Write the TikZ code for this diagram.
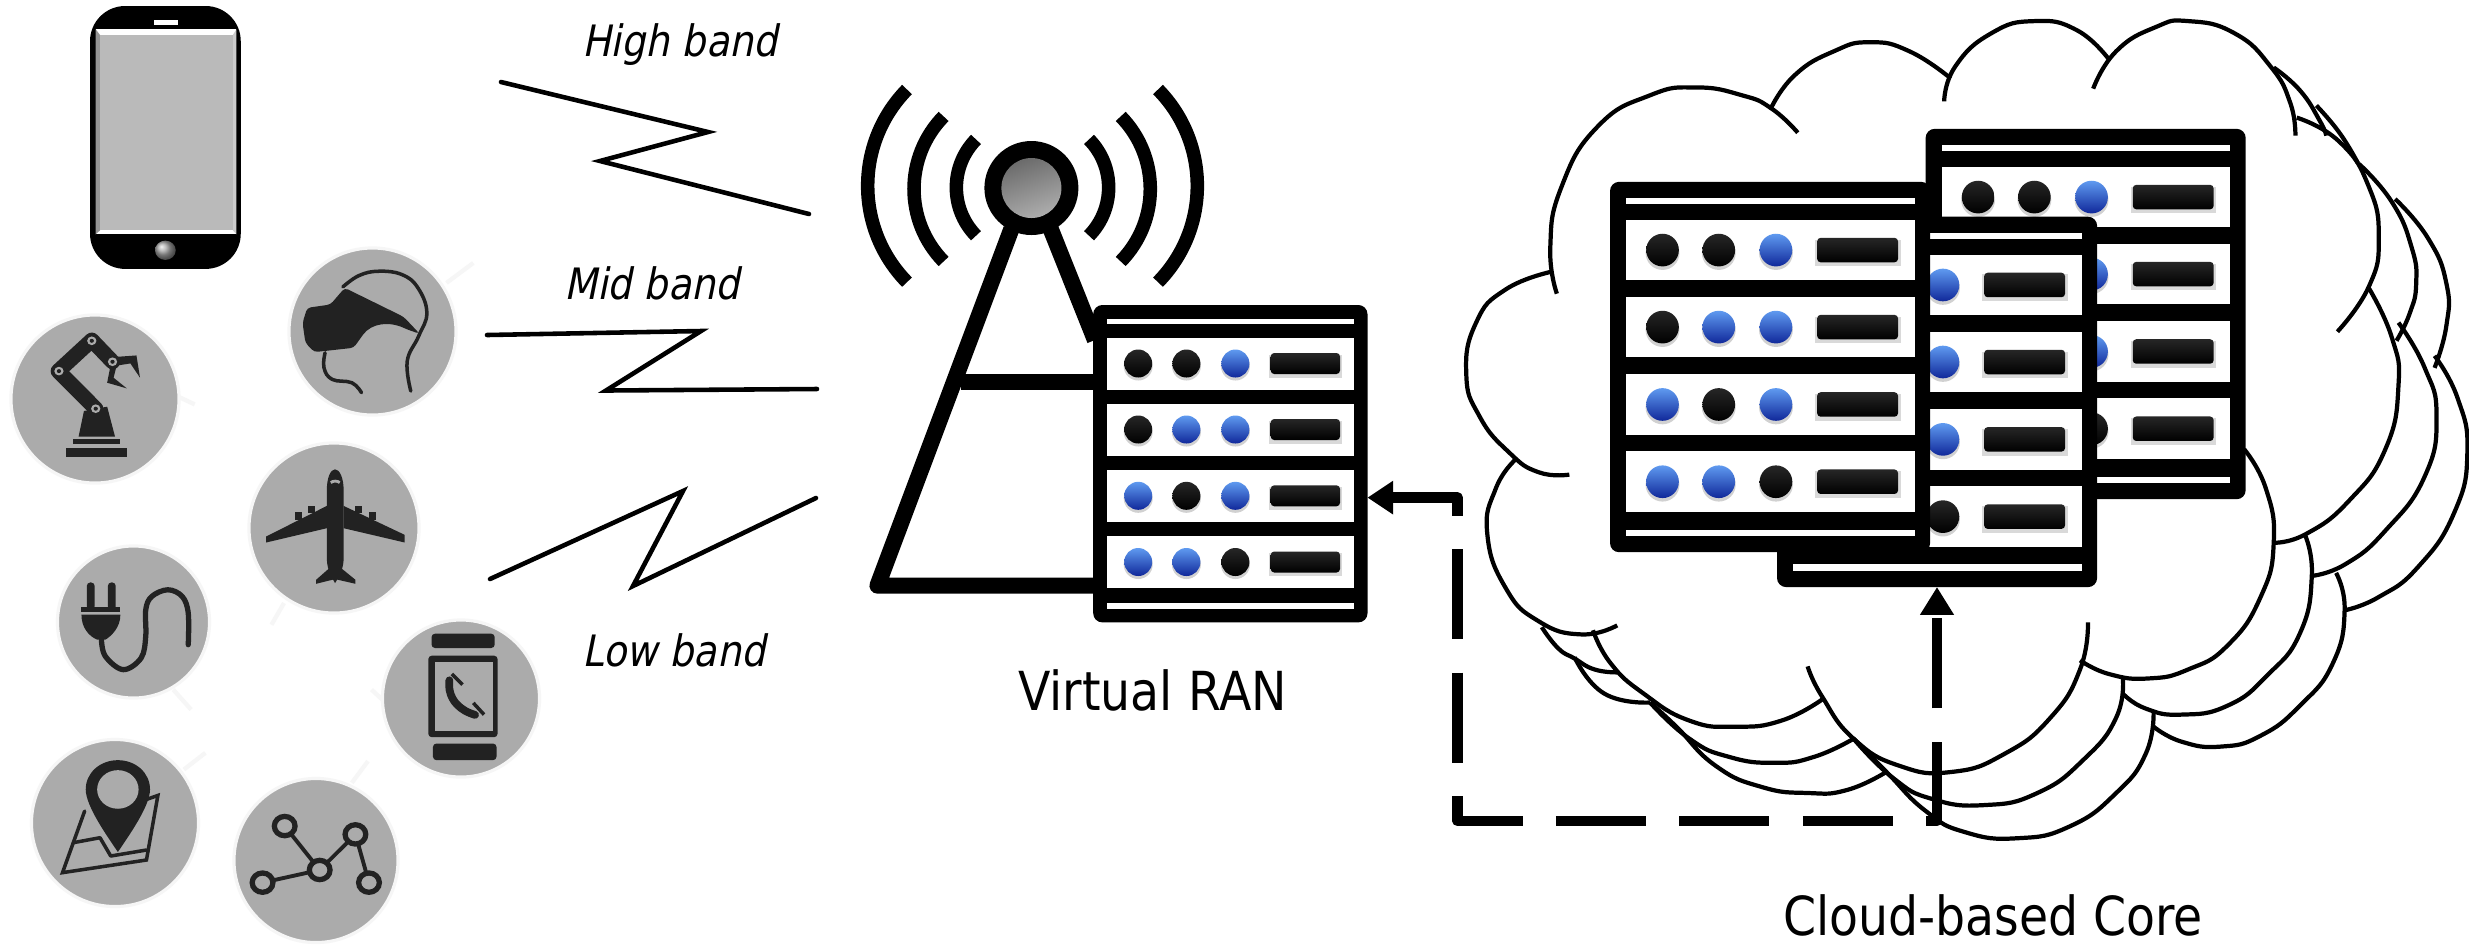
\documentclass[tikz,border=0pt]{standalone}
\usepackage{fontspec}
\setmainfont{DejaVu Sans}
\newfontfamily\lblfont[FakeStretch=0.88]{DejaVu Sans}
\newfontfamily\lblifont[FakeStretch=0.88,FakeSlant=0.2]{DejaVu Sans}
\usetikzlibrary{arrows.meta}
\definecolor{discgrey}{HTML}{ABABAB}
\definecolor{ink}{HTML}{222222}
\definecolor{halo}{HTML}{F6F6F6}
\definecolor{bluetop}{HTML}{5F9AF0}
\definecolor{bluemid}{HTML}{2358D8}
\definecolor{bluebot}{HTML}{10289A}
\tikzset{
 zoomA/.style={x=0.0035714cm,y=-0.0033333cm},
 zoomB/.style={shift={(0,440)},x=0.0035714cm,y=-0.0033333cm},
 zoomC/.style={shift={(1440,0)},x=0.006562cm,y=-0.00602cm},
 disc/.style={circle,fill=discgrey,draw=halo,line width=.9pt,inner sep=0pt},
 stub/.style={draw=halo,line width=1.2pt},
 inkline/.style={draw=ink,line cap=round,line join=round},
 zig/.style={draw=black,line width=1.3pt,line cap=round,line join=miter},
 wave/.style={draw=black,line width=3.85pt,line cap=butt},
 towerline/.style={draw=black,line width=4.6pt,line join=round,line cap=butt},
 cloudline/.style={draw=black,line width=1.2pt},
 dashconn/.style={draw=black,line width=3pt,line join=round,dash pattern=on 25.6pt off 9.5pt,dash phase=1.7pt,
   {Triangle[length=7.3pt,width=9.1pt]}-{Triangle[length=7.9pt,width=9.1pt]}},
 bandlabel/.style={font=\lblifont\fontsize{12.3}{15}\selectfont,inner sep=0pt},
 mainlabel/.style={font=\lblfont\fontsize{15.3}{18}\selectfont,inner sep=0pt},
 ledblue/.style={top color=bluetop,middle color=bluemid,bottom color=bluebot},
 ledblack/.style={top color=black!85,bottom color=black},
}
\newcommand\oneled[3]{%
 \fill[black,opacity=.18] (#1,#2+2.5) circle[radius=14.5];
 \shade[#3] (#1,#2) circle[radius=14];}
\newcommand\onerow[4]{%
 \fill[white] (14,#1) rectangle (261,#1+52);
 \oneled{45}{#1+26}{#2}\oneled{93.2}{#1+26}{#3}\oneled{142.2}{#1+26}{#4}
 \fill[black,opacity=.15] (176,#1+17) rectangle (249,#1+40);
 \shade[top color=black!85,bottom color=black,rounded corners=1pt] (177.5,#1+15.5) rectangle (246.8,#1+36.5);}
\newcommand\serverunit[2]{%
 \begin{scope}[shift={#1},scale=#2]
  \fill[black,rounded corners=2.6pt] (0,0) rectangle (274.3,317.4);
  \fill[white] (14,14) rectangle (261,18.7);
  \fill[white] (14,298) rectangle (261,303.6);
  \onerow{32.5}{ledblack}{ledblack}{ledblue}
  \onerow{98.5}{ledblack}{ledblue}{ledblue}
  \onerow{164.8}{ledblue}{ledblack}{ledblue}
  \onerow{231}{ledblue}{ledblue}{ledblack}
 \end{scope}}
\newcommand\arcline[1]{\draw[cloudline] plot[smooth,tension=0.85] coordinates {#1};}
\begin{document}
\begin{tikzpicture}[x=0.01cm,y=-0.01cm]
\useasboundingbox (0,0) rectangle (2469,944);
\fill[white] (0,0) rectangle (2469,944);

% ---------- phone
\begin{scope}[zoomA]
 \fill[black,rounded corners=10pt] (252,18) rectangle (674,808);
 \fill[white] (268,88) rectangle (662,704);
 \fill[white] (430,60) rectangle (497,74);
 \fill[gray!85] (268,88) -- (280,105) -- (280,692) -- (268,704) -- cycle;
 \fill[gray!40] (662,88) -- (652,105) -- (652,692) -- (662,704) -- cycle;
 \fill[black!27] (280,105) rectangle (652,692);
 \shade[ball color=gray!70] (463,752) circle[radius=29];
\end{scope}

% ---------- stubs behind the discs
\begin{scope}[zoomA]
 \draw[stub] (1250,850) -- (1325,790);
 \draw[stub] (495,1190) -- (545,1215);
\end{scope}
\begin{scope}[zoomB]
 \draw[stub] (795,490) -- (760,555);
 \draw[stub] (485,750) -- (535,810);
 \draw[stub] (1070,780) -- (1040,750);
 \draw[stub] (515,990) -- (575,940);
 \draw[stub] (1030,965) -- (985,1030);
\end{scope}

% ---------- discs
\node[disc,minimum size=1.67cm] (vr) at (372.5,331.5) {};
\node[disc,minimum size=1.68cm] (robot) at (95,399) {};
\node[disc,minimum size=1.70cm] (plane) at (334,528) {};
\node[disc,minimum size=1.52cm] (plug) at (133.5,622) {};
\node[disc,minimum size=1.57cm] (watch) at (461,698.5) {};
\node[disc,minimum size=1.67cm] (map) at (115,823) {};
\node[disc,minimum size=1.64cm] (network) at (316,860.5) {};

% ---------- robot arm
\begin{scope}[zoomA]
 \fill[ink] (185,1345) rectangle (355,1372);
 \fill[ink] (205,1320) rectangle (335,1335);
 \fill[ink] (235,1235) -- (300,1222) -- (322,1312) -- (220,1312) -- cycle;
 \draw[inkline,line width=4.3pt] (268,1228) -- (163,1115) -- (257,1022) -- (315,1087);
 \fill[ink] (330,1072) -- (382,1068) -- (392,1135) -- (365,1092) -- (330,1098) -- cycle;
 \fill[ink] (310,1095) -- (300,1150) -- (355,1167) -- (318,1135) -- (325,1105) -- cycle;
 \foreach \jx/\jy in {165/1115,257/1024,268/1228,315/1087}{
  \fill[discgrey] (\jx,\jy) circle[radius=13];
  \fill[ink] (\jx,\jy) circle[radius=6];}
\end{scope}

% ---------- VR headset
\begin{scope}[zoomA]
 \fill[ink,rounded corners=1pt] (965,865) -- (1060,915) -- (1130,952) -- (1175,1003) -- (1140,990)
   .. controls (1090,965) and (1040,970) .. (1010,1015) -- (990,1045) -- (880,1058) -- (855,1030)
   -- (847,970) -- (860,925) -- (925,915) -- cycle;
 \draw[inkline,line width=1pt] plot[smooth,tension=.7] coordinates
   {(960,862) (1005,828) (1060,815) (1125,825) (1170,865) (1195,940) (1172,1010) (1140,1085) (1150,1175)};
 \draw[inkline,line width=1pt] plot[smooth,tension=.7] coordinates
   {(910,1060) (907,1105) (930,1140) (985,1150) (1012,1180)};
\end{scope}

% ---------- plane
\begin{scope}[zoomB]
 \fill[ink] (938,88) .. controls (925,88) and (915,115) .. (915,150) -- (915,360)
   .. controls (917,395) and (930,415) .. (938,430) .. controls (946,415) and (960,395) .. (962,360)
   -- (962,150) .. controls (962,115) and (951,88) .. (938,88) -- cycle;
 \fill[ink] (915,198) -- (745,290) -- (745,308) -- (915,265) -- cycle;
 \fill[ink] (962,198) -- (1133,285) -- (1133,308) -- (962,265) -- cycle;
 \fill[ink] (825,215) rectangle (845,240);
 \fill[ink] (862,197) rectangle (882,218);
 \fill[ink] (995,197) rectangle (1013,218);
 \fill[ink] (1033,215) rectangle (1052,240);
 \fill[ink] (922,385) -- (885,420) -- (885,432) -- (938,418) -- (995,432) -- (995,420) -- (955,385) -- cycle;
 \draw[discgrey,line width=.8pt] (926,128) .. controls (932,122) and (945,122) .. (951,128);
\end{scope}

% ---------- plug
\begin{scope}[zoomB]
 \fill[ink,rounded corners=1pt] (243,510) -- (243,428) -- (265,428) -- (265,510) -- cycle;
 \fill[ink,rounded corners=1pt] (302,510) -- (302,428) -- (324,428) -- (324,510) -- cycle;
 \fill[ink] (228,503) rectangle (337,517);
 \fill[ink] (228,525) -- (337,525) .. controls (337,565) and (310,590) .. (295,600) -- (272,600)
   .. controls (250,590) and (228,565) .. (228,525) -- cycle;
 \draw[inkline,line width=1.5pt] plot[smooth,tension=.6] coordinates
  {(284,600) (295,650) (345,690) (395,655) (408,590) (408,510) (425,470) (470,450) (510,470) (527,520) (527,615)};
\end{scope}

% ---------- watch
\begin{scope}[zoomB]
 \fill[ink,rounded corners=1pt] (1208,582) rectangle (1385,625);
 \fill[ink,rounded corners=1pt] (1212,912) rectangle (1390,962);
 \fill[ink,rounded corners=1pt] (1199,648) rectangle (1393,893);
 \fill[discgrey] (1217,668) rectangle (1380,873);
 \draw[ink,line width=2.2pt,line cap=round] plot[smooth,tension=.8] coordinates
  {(1258,722) (1262,765) (1290,805) (1330,826)};
 \draw[ink,line width=1pt] (1265,703) -- (1295,735);
 \draw[ink,line width=1pt] (1325,790) -- (1355,825);
\end{scope}

% ---------- map pin
\begin{scope}[zoomB]
 \draw[inkline,line width=1pt,line join=miter] (237,1115) -- (175,1300) -- (410,1262) -- (442,1068) -- (410,1080);
 \draw[inkline,line width=1pt] (205,1210) -- (280,1195) -- (310,1250) -- (410,1232);
 \fill[ink] (240,1050) .. controls (240,1000) and (280,962) .. (330,962)
   .. controls (380,962) and (420,1000) .. (420,1050)
   .. controls (420,1100) and (360,1190) .. (330,1238)
   .. controls (300,1190) and (240,1100) .. (240,1050) -- cycle;
 \fill[discgrey] (330,1050) circle[radius=58];
\end{scope}

% ---------- network
\begin{scope}[zoomB]
 \coordinate (na) at (797,1160);
 \coordinate (nb) at (995,1185);
 \coordinate (nc) at (895,1292);
 \coordinate (nd) at (735,1330);
 \coordinate (ne) at (1033,1330);
 \draw[ink,line width=1.1pt] (na) -- (nc) -- (nb) -- (ne) (nd) -- (nc);
 \foreach \n in {na,nb,nc,nd,ne}{
   \path[fill=discgrey,draw=ink,line width=1.5pt] (\n) circle[radius=29];}
\end{scope}

% ---------- zigzags
\draw[zig] (501,82) -- (708,132) -- (600,161) -- (809,214);
\draw[zig] (487,335) -- (701,331) -- (606,390.5) -- (817,389);
\draw[zig] (490,579) -- (683,491) -- (633,586) -- (816,498);
\node[bandlabel] (high) at (680,45) {High band};
\node[bandlabel] (mid) at (652,283) {Mid band};
\node[bandlabel] (low) at (674,650) {Low band};

% ---------- tower
\draw[towerline] (1011.4,229) -- (877.5,585.6) -- (1095,585.6);
\draw[towerline] (1050.7,229) -- (1095,340);
\draw[towerline] (961,382) -- (1095,382);
\draw[wave] (907,89.5) arc[start angle=135.6,end angle=224.4,radius=1.376cm];
\draw[wave] (943.6,116.4) arc[start angle=135.6,end angle=224.4,radius=1.036cm];
\draw[wave] (976,139.4) arc[start angle=135.6,end angle=224.4,radius=0.688cm];
\draw[wave] (1158,89.5) arc[start angle=44.4,end angle=-44.4,radius=1.376cm];
\draw[wave] (1120.7,116.4) arc[start angle=44.4,end angle=-44.4,radius=1.036cm];
\draw[wave] (1089,139.4) arc[start angle=44.4,end angle=-44.4,radius=0.688cm];
\fill[black] (1031.4,188) circle[radius=47];
\shade[top color=black!58,bottom color=black!32,shading angle=20] (1031.4,188) circle[radius=30];

% ---------- virtual RAN server
\serverunit{(1093.2,305)}{1}
\node[mainlabel] (vran) at (1152.6,690) {Virtual RAN};

% ---------- clouds
\begin{scope}[zoomC]
 % third cloud
 \arcline{(1335,175) (1370,220) (1398,270)}
 \arcline{(1455,330) (1505,395) (1533,470) (1533,540) (1515,610)}
 \arcline{(1515,590) (1550,660) (1565,750) (1545,850) (1490,940) (1430,990) (1378,1012)}
 \arcline{(1365,950) (1378,1012) (1360,1100) (1310,1170) (1250,1220) (1190,1238) (1130,1230) (1087,1205)}
 \arcline{(1087,1180) (1075,1250) (1030,1315) (960,1370) (880,1390) (800,1380) (740,1345) (680,1280) (630,1225)}
 \arcline{(680,1280) (620,1310) (560,1315) (490,1305) (420,1270) (360,1205) (320,1165)}
 \arcline{(205,1090) (250,1150) (320,1165)}
 % second cloud
 \arcline{(1270,112) (1310,150) (1340,200) (1350,225)}
 \arcline{(1400,272) (1450,335) (1480,410) (1487,470) (1477,520) (1457,565)}
 \arcline{(1460,535) (1500,610) (1518,690) (1500,790) (1440,880) (1380,935) (1328,955)}
 \arcline{(1318,888) (1328,955) (1310,1050) (1260,1120) (1200,1170) (1130,1185) (1075,1175) (1040,1150)}
 \arcline{(1040,1122) (1030,1190) (980,1260) (910,1315) (830,1335) (750,1325) (690,1290) (630,1225)}
 \arcline{(630,1225) (570,1255) (510,1265) (440,1255) (380,1225) (320,1165)}
 \arcline{(155,1040) (180,1075) (205,1092) (235,1110) (270,1115)}
 % front cloud
 \arcline{(197,787) (150,783) (105,750) (60,690) (40,620) (55,535) (100,480) (172,450)}
 \arcline{(178,487) (168,410) (185,310) (240,210) (320,158) (390,145) (460,158) (505,180) (545,220)}
 \arcline{(503,182) (540,125) (600,85) (655,70) (715,85) (778,130)}
 \arcline{(768,168) (785,110) (840,55) (905,35) (970,50) (1020,100)}
 \arcline{(995,147) (1030,85) (1090,45) (1140,35) (1210,55) (1265,110) (1295,170) (1303,225)}
 \arcline{(1305,195) (1370,235) (1415,310) (1430,395) (1415,475) (1367,550)}
 \arcline{(1415,478) (1450,560) (1460,640) (1440,745) (1385,830) (1320,885) (1270,900)}
 \arcline{(1225,745) (1258,810) (1270,900) (1250,990) (1200,1070) (1140,1110) (1080,1125) (1020,1118) (975,1095)}
 \arcline{(987,1032) (975,1110) (930,1190) (860,1250) (780,1280) (700,1270) (630,1225) (582,1155) (560,1105)}
 \arcline{(582,1160) (520,1195) (450,1205) (380,1195) (310,1150) (260,1100) (233,1045)}
 \arcline{(270,1037) (215,1052) (150,1030) (100,975) (72,885) (85,810) (115,762)}
\end{scope}

% ---------- cloud servers
\serverunit{(1925.6,128.8)}{1.167}
\serverunit{(1777,216.7)}{1.167}
\serverunit{(1610,181.8)}{1.167}
\node[mainlabel] (core) at (1993,915) {Cloud-based Core};

% ---------- dashed connector
\coordinate (vranport) at (1367.5,497.6);
\coordinate (coreport) at (1937,587);
\coordinate (bendA) at (1457.5,497.6);
\coordinate (bendB) at (1457.5,821);
\coordinate (bendC) at (1937,821);
\draw[dashconn] (vranport) -- (bendA) -- (bendB) -- (bendC) -- (coreport);
\end{tikzpicture}
\end{document}
